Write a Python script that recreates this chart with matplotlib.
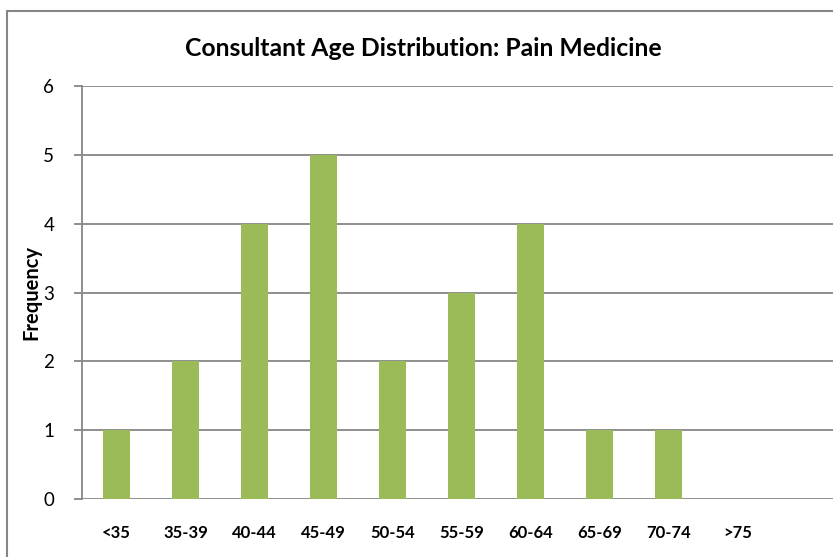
import matplotlib.pyplot as plt
from matplotlib.patches import Rectangle

ages = ['<35', '35-39', '40-44', '45-49', '50-54', '55-59', '60-64',
        '65-69', '70-74', '>75']
counts = [1, 2, 4, 5, 2, 3, 4, 1, 1, 0]
yticks = [0, 1, 2, 3, 4, 5, 6]

plt.rcParams['font.family'] = ['Lato', 'DejaVu Sans']

fig = plt.figure(figsize=(8.33, 5.57), dpi=100)
# plot area placed by pixel (82..833 x, 86..499 y)
ax = fig.add_axes([82/833, 58/557, 751/833, 413/557])

grey = '#868686'
x = list(range(len(ages)))
ax.bar(x, counts, width=0.4, color='#9bbb59', zorder=3)

ax.set_xlim(-0.5, -0.5 + 751/69)
ax.set_ylim(0, 6)
ax.set_yticks(yticks)
ax.set_yticklabels([str(v) for v in yticks], fontsize=13.5)
ax.set_xticks(x)
ax.set_xticklabels(ages, fontsize=12, fontweight='bold')
ax.tick_params(axis='x', length=0, pad=19)
ax.tick_params(axis='y', length=6, color=grey, width=1.3, pad=14)

ax.grid(axis='y', color=grey, linewidth=1.3, zorder=0)
for s in ['top', 'right', 'bottom']:
    ax.spines[s].set_visible(False)
ax.spines['left'].set_color(grey)
ax.spines['left'].set_linewidth(1.3)

ax.set_ylabel('Frequency', fontsize=14.5, fontweight='bold',
              va='center', ha='center')
ax.yaxis.set_label_coords(-51/751, 0.5)
fig.text(423/833, 1 - 48/557, 'Consultant Age Distribution: Pain Medicine',
         ha='center', va='center', fontsize=17.8, fontweight='bold')

# chart border (partly cropped)
fig.add_artist(Rectangle((6.5/833, -0.1), 1.2, 1.1 - 11/557,
                         transform=fig.transFigure, fill=False,
                         edgecolor=grey, linewidth=1.5))

fig.savefig('out.png', dpi=100)
